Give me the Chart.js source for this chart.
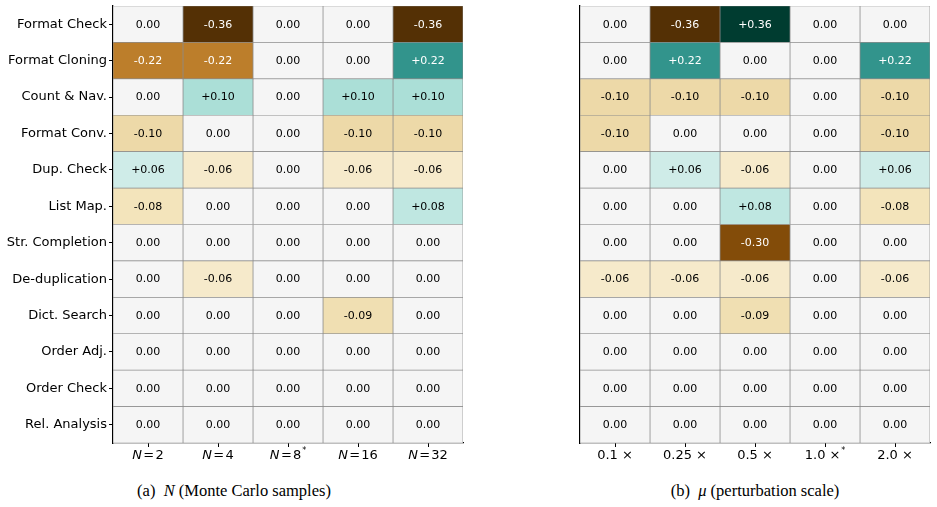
<!DOCTYPE html>
<html>
<head>
<meta charset="utf-8">
<script src="https://cdn.jsdelivr.net/npm/chart.js@4/dist/chart.umd.min.js"></script>
<style>
  body { margin: 0; background: #fff; }
  .panel { position: absolute; top: 0; height: 460px; }
  .cap { position: absolute; top: 481px; font: 16.5px "Liberation Serif", serif; color: #000; white-space: pre; transform: translateX(-50%); }
</style>
</head>
<body>
<div class="panel" style="left:0;width:470px"><canvas id="chartN"></canvas></div>
<div class="panel" style="left:470px;width:467px"><canvas id="chartMu"></canvas></div>
<div class="cap" style="left:234px">(a)  <i>N</i> (Monte Carlo samples)</div>
<div class="cap" style="left:755px">(b)  <i>μ</i> (perturbation scale)</div>
<script>
const tasks = ['Format Check', 'Format Cloning', 'Count & Nav.', 'Format Conv.', 'Dup. Check', 'List Map.',
    'Str. Completion', 'De-duplication', 'Dict. Search', 'Order Adj.', 'Order Check', 'Rel. Analysis'];

// (a) Monte Carlo samples, one array per column
const nTicks = ['N=2', 'N=4', 'N=8*', 'N=16', 'N=32'];
const n2  = [0, -0.22, 0, -0.10, 0.06, -0.08, 0, 0, 0, 0, 0, 0];
const n4  = [-0.36, -0.22, 0.10, 0, -0.06, 0, 0, -0.06, 0, 0, 0, 0];
const n8  = [0, 0, 0, 0, 0, 0, 0, 0, 0, 0, 0, 0];
const n16 = [0, 0, 0.10, -0.10, -0.06, 0, 0, 0, -0.09, 0, 0, 0];
const n32 = [-0.36, 0.22, 0.10, -0.10, -0.06, 0.08, 0, 0, 0, 0, 0, 0];

// (b) perturbation scale, one array per column
const muTicks = ['0.1 ×', '0.25 ×', '0.5 ×', '1.0 ×*', '2.0 ×'];
const mu01  = [0, 0, -0.10, -0.10, 0, 0, 0, -0.06, 0, 0, 0, 0];
const mu025 = [-0.36, 0.22, -0.10, 0, 0.06, 0, 0, -0.06, 0, 0, 0, 0];
const mu05  = [0.36, 0, -0.10, 0, -0.06, 0.08, -0.30, -0.06, -0.09, 0, 0, 0];
const mu10  = [0, 0, 0, 0, 0, 0, 0, 0, 0, 0, 0, 0];
const mu20  = [0, 0.22, -0.10, -0.10, 0.06, -0.08, 0, -0.06, 0, 0, 0, 0];

const vmax = 0.36;
const brbg = ['#543005', '#8c510a', '#bf812d', '#dfc27d', '#f6e8c3', '#f5f5f5',
    '#c7eae5', '#80cdc1', '#35978f', '#01665e', '#003c30'];

function hexToRgb(h) {
    return [1, 3, 5].map(i => parseInt(h.substr(i, 2), 16));
}

function cellColor(v) {
    let t = (v + vmax) / (2 * vmax);
    t = Math.max(0, Math.min(1, t));
    const pos = t * (brbg.length - 1);
    const i = Math.min(Math.floor(pos), brbg.length - 2);
    const f = pos - i;
    const a = hexToRgb(brbg[i]), b = hexToRgb(brbg[i + 1]);
    const c = a.map((x, k) => Math.round(x + (b[k] - x) * f));
    return 'rgb(' + c.join(',') + ')';
}

function fmt(v) {
    if (Math.abs(v) < 0.005) return '0.00';
    return (v > 0 ? '+' : '') + v.toFixed(2);
}

// value text inside each cell
const cellText = {
    id: 'cellText',
    afterDatasetsDraw(chart) {
        const ctx = chart.ctx;
        ctx.save();
        ctx.font = '11px "DejaVu Sans"';
        ctx.textAlign = 'center';
        ctx.textBaseline = 'middle';
        chart.data.datasets.forEach((ds, di) => {
            chart.getDatasetMeta(di).data.forEach((bar, i) => {
                const v = ds.values[i];
                const p = bar.getCenterPoint();
                ctx.fillStyle = Math.abs(v) >= 0.2 ? '#fff' : '#000';
                ctx.fillText(fmt(v), p.x, p.y + 0.5);
            });
        });
        ctx.restore();
    }
};

// x tick labels with italic N and superscript asterisk
const xLabels = {
    id: 'xLabels',
    afterDraw(chart, args, opts) {
        const ctx = chart.ctx;
        const sx = chart.scales.x;
        const y = sx.top + 13;
        ctx.save();
        ctx.textBaseline = 'middle';
        ctx.textAlign = 'left';
        ctx.fillStyle = '#000';
        opts.labels.forEach((lab, i) => {
            let parts = [];
            let s = lab;
            let star = false;
            if (s.endsWith('*')) { star = true; s = s.slice(0, -1); }
            if (s.startsWith('N=')) {
                parts.push(['N', 'italic 13px "DejaVu Sans"', 0]);
                parts.push(['\u200A=\u200A' + s.slice(2), '13px "DejaVu Sans"', 0]);
            } else {
                parts.push([s, '13px "DejaVu Sans"', 0]);
            }
            if (star) parts.push(['\u200A*', '8px "DejaVu Sans"', -5]);
            let w = 0;
            parts.forEach(p => { ctx.font = p[1]; w += ctx.measureText(p[0]).width; });
            let x = sx.getPixelForValue(i + 0.5) - w / 2;
            parts.forEach(p => {
                ctx.font = p[1];
                ctx.fillText(p[0], x, y + p[2]);
                x += ctx.measureText(p[0]).width;
            });
        });
        ctx.restore();
    }
};

function makeHeatmap(id, columns, ticks, showRows) {
    const datasets = columns.map(vals => ({
        data: vals.map(() => 1),
        values: vals,
        backgroundColor: vals.map(cellColor),
        borderColor: '#8c8c8c',
        borderWidth: 0.7,
        borderSkipped: false,
        categoryPercentage: 1,
        barPercentage: 1
    }));
    return new Chart(document.getElementById(id), {
        type: 'bar',
        data: { labels: tasks, datasets: datasets },
        options: {
            indexAxis: 'y',
            responsive: true,
            maintainAspectRatio: false,
            animation: false,
            layout: { padding: { top: 6, right: 7, left: 0, bottom: 0 } },
            plugins: {
                legend: { display: false },
                tooltip: { enabled: false },
                xLabels: { labels: ticks }
            },
            scales: {
                x: {
                    type: 'linear',
                    stacked: true,
                    min: 0,
                    max: columns.length,
                    afterBuildTicks: s => { s.ticks = columns.map((c, i) => ({ value: i + 0.5 })); },
                    afterFit: s => { s.height = 17; s.paddingLeft = 0; s.paddingRight = 0; },
                    ticks: { display: false },
                    grid: { drawOnChartArea: false, drawTicks: true, tickLength: 4, color: '#000', lineWidth: 1 },
                    border: { display: true, color: '#000', width: 1.3 }
                },
                y: {
                    stacked: true,
                    afterFit: s => { s.width = showRows ? 113 : 110; s.paddingTop = 0; s.paddingBottom = 0; },
                    ticks: {
                        display: showRows,
                        color: '#000',
                        padding: 2,
                        font: { family: 'DejaVu Sans', size: 13 }
                    },
                    grid: { offset: false, drawOnChartArea: false, drawTicks: showRows, tickLength: 4, color: '#000', lineWidth: 1 },
                    border: { display: true, color: '#000', width: 1.3 }
                }
            }
        },
        plugins: [cellText, xLabels]
    });
}

makeHeatmap('chartN', [n2, n4, n8, n16, n32], nTicks, true);
makeHeatmap('chartMu', [mu01, mu025, mu05, mu10, mu20], muTicks, false);
</script>
</body>
</html>
